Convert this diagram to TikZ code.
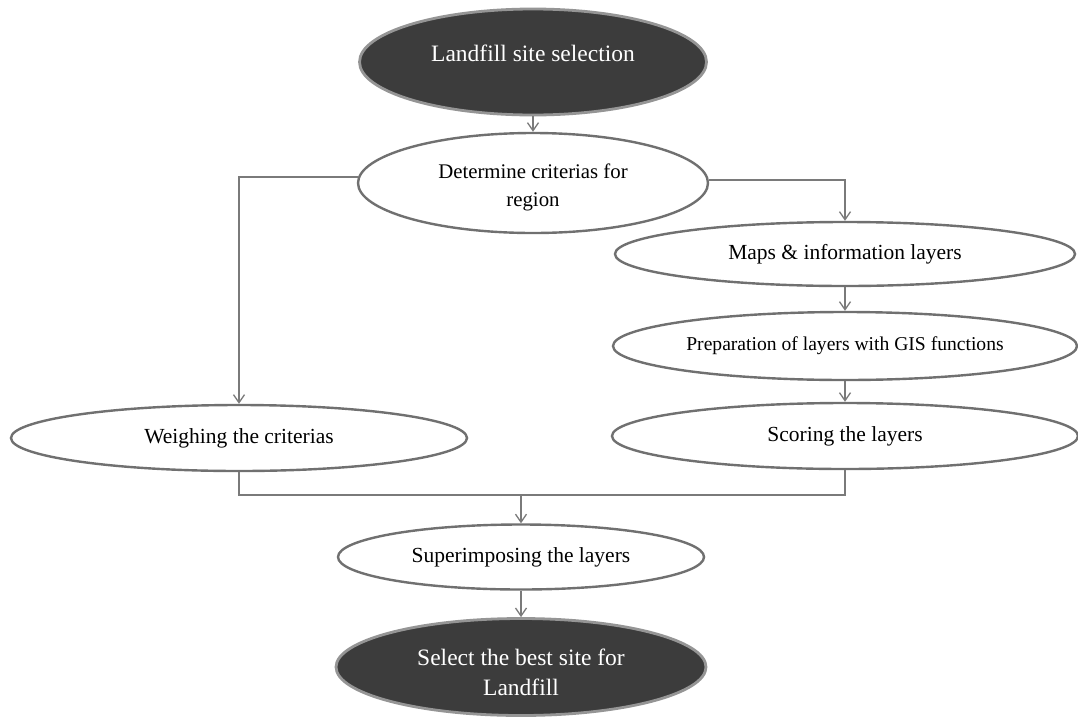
\documentclass[tikz,border=0pt]{standalone}
\usepackage{fontspec}
\setmainfont{Liberation Serif}
\usetikzlibrary{shapes.geometric,arrows.meta}
\definecolor{darkfill}{HTML}{3C3C3C}
\definecolor{darkedge}{HTML}{959595}
\definecolor{edgegray}{HTML}{707070}
\definecolor{linegray}{HTML}{7A7A7A}
\tikzset{
  lightell/.style={ellipse, draw=edgegray, line width=2.4pt, fill=white, inner sep=0pt, align=center, text=black},
  darkell/.style={ellipse, draw=darkedge, line width=2.8pt, fill=darkfill, inner sep=0pt},
  whitetext/.style={text=white, align=center, inner sep=0pt, font=\fontsize{23.5}{30}\selectfont},
  blacktext/.style={text=black, align=center, inner sep=0pt, font=\fontsize{20.8}{28}\selectfont},
  conn/.style={draw=linegray, line width=1.3pt},
  arr/.style={conn, -{Straight Barb[length=8pt,width=11pt,line width=1.3pt]}},
  bodytext/.style={font=\fontsize{21.5}{28}\selectfont},
}
\begin{document}
\begin{tikzpicture}[x=1pt,y=-1pt]
\useasboundingbox (0,0) rectangle (1078,718);
\fill[white] (0,0) rectangle (1078,718);
\node[darkell, minimum width=347pt, minimum height=106pt,
  label={[name=toptext, whitetext, yshift=9pt]center:Landfill site selection}] (top) at (533,62) {};
\node[lightell, minimum width=350pt, minimum height=100pt,
  label={[name=dettext, blacktext, yshift=-4pt]center:Determine criterias for\\region}] (det) at (533,183) {};
\node[lightell, bodytext, minimum width=460pt, minimum height=64pt] (maps) at (845,254) {Maps \& information layers};
\node[lightell, minimum width=464pt, minimum height=68pt, font=\fontsize{19.6}{24}\selectfont] (prep) at (845,346) {Preparation of layers with GIS functions};
\node[lightell, bodytext, minimum width=466pt, minimum height=66pt] (score) at (845,436) {Scoring the layers};
\node[lightell, bodytext, minimum width=456pt, minimum height=66pt] (weigh) at (239,438) {Weighing the criterias};
\node[lightell, bodytext, minimum width=366pt, minimum height=65pt] (sup) at (521,557) {Superimposing the layers};
\node[darkell, minimum width=370pt, minimum height=97pt,
  label={[name=seltext, whitetext, yshift=-5pt]center:Select the best site for\\Landfill}] (sel) at (521,667) {};
\coordinate (j) at (521,495);
\draw[arr] (top.south) -- (det.north);
\draw[arr] (det.178.5) -| (weigh.north);
\draw[arr] (det.1) -| (maps.north);
\draw[arr] (maps.south) -- (prep.north);
\draw[arr] (prep.south) -- (score.north);
\draw[conn] (weigh.south) |- (j) -| (score.south);
\draw[arr] (j) -- (sup.north);
\draw[arr] (sup.south) -- (sel.north);
\end{tikzpicture}
\end{document}
